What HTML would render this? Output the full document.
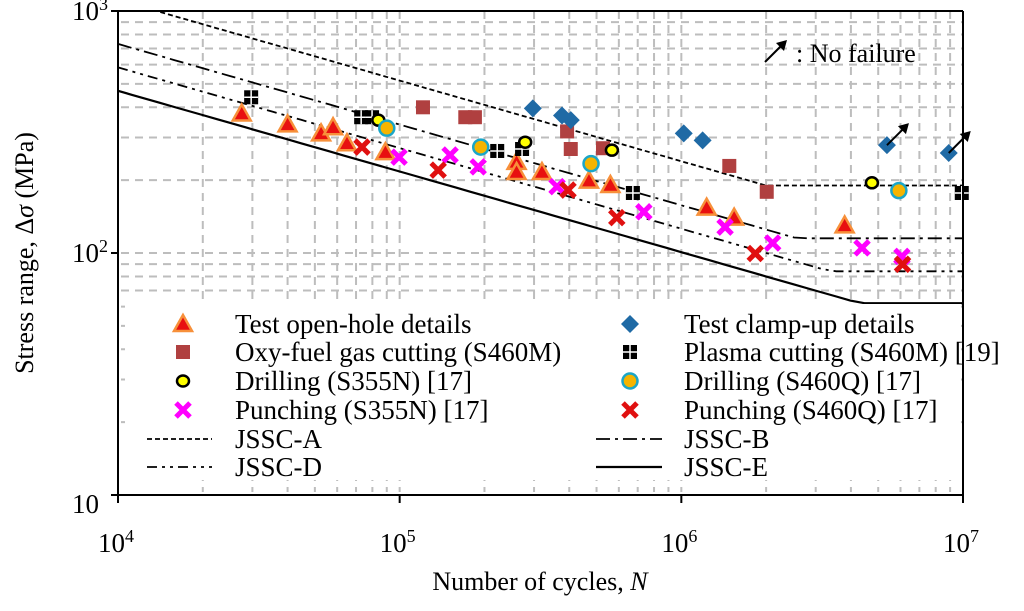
<!DOCTYPE html>
<html><head><meta charset="utf-8"><style>
html,body{margin:0;padding:0;background:#fff;}
svg{display:block;}
svg text{font-family:"Liberation Serif","Times New Roman","DejaVu Serif",serif;}
</style></head><body>
<svg id="chart" width="1024" height="611" viewBox="0 0 1024 611" xmlns="http://www.w3.org/2000/svg">
<g id="grid"></g>
<g id="curves"></g>
<g id="marks"></g>
<g id="axes"></g>
<g id="legend"></g>
</svg>
<script>
const xTicks=[1e4,1e5,1e6,1e7];
const xTickExp=["4","5","6","7"];
const yTicks=[10,100,1000];
const yTickLabels=["10","10","10"];
const yTickExp=["","2","3"];
const curveNames=["JSSC-A","JSSC-B","JSSC-D","JSSC-E"];
const curveRef=[190,125,100,80];
const curveCut=[190,115,84,62];
const openN=[2.75e4,4.0e4,5.26e4,5.8e4,6.5e4,8.9e4,2.6e5,2.6e5,3.2e5,4.7e5,5.6e5,1.23e6,1.54e6,3.8e6];
const openS=[377,340,312,331,284,261,238,216,216,199,191,154,140,130];
const clampN=[2.97e5,3.77e5,4.05e5,1.02e6,1.19e6,5.37e6,8.9e6];
const clampS=[396,370,354,312,292,279,259];
const clampRunout=[false,false,false,false,false,true,true];
const oxyN=[1.21e5,1.71e5,1.85e5,3.93e5,4.05e5,5.27e5,1.48e6,2.01e6];
const oxyS=[400,364,364,318,269,271,229,179];
const plasmaN=[2.97e4,7.3e4,7.98e4,2.22e5,2.72e5,6.73e5,9.9e6];
const plasmaS=[440,364,364,264,269,177,177];
const dr355N=[8.4e4,2.79e5,5.67e5,4.75e6];
const dr355S=[354,287,266,195];
const dr460N=[9.0e4,1.94e5,4.78e5,5.92e6];
const dr460S=[328,274,234,181];
const pu355N=[9.95e4,1.51e5,1.90e5,3.62e5,7.36e5,1.43e6,2.11e6,4.38e6,6.07e6];
const pu355S=[249,254,227,188,148,128,110,105,96.8];
const pu460N=[7.35e4,1.37e5,3.96e5,5.9e5,1.83e6,6.1e6];
const pu460S=[274,220,182,140,99.5,89.8];

const NS="http://www.w3.org/2000/svg";
const X0=118,X1=963,Y0=495,Y1=11;
function X(n){return X0+(Math.log10(n)-4)/3*(X1-X0);}
function Y(s){return Y0-(Math.log10(s)-1)/2*(Y0-Y1);}
function el(tag,attrs,parent){const e=document.createElementNS(NS,tag);for(const k in attrs)e.setAttribute(k,attrs[k]);parent.appendChild(e);return e;}
const grid=document.getElementById('grid'),curves=document.getElementById('curves'),marks=document.getElementById('marks'),axes=document.getElementById('axes'),legend=document.getElementById('legend');

for(let d=4;d<7;d++)for(let m=2;m<=10;m++){const x=X(m*Math.pow(10,d));if(m==10&&d==6)continue;
 const g=el('line',{x1:x,x2:x,y1:Y1,y2:Y0-3,stroke:'#bdbdbd','stroke-width':2,'stroke-dasharray':'8,6'},grid);
 }
for(let d=1;d<3;d++)for(let m=2;m<=9;m++){const y=Y(m*Math.pow(10,d));
 const g=el('line',{x1:X0+3,x2:X1,y1:y,y2:y,stroke:'#bdbdbd','stroke-width':2,'stroke-dasharray':'8,6'},grid);
 }
{const y=Y(100);const g=el('line',{x1:X0+3,x2:X1,y1:y,y2:y,stroke:'#bdbdbd','stroke-width':2,'stroke-dasharray':'8,6'},grid);
 }

const dashes=['5,3','14,5,3,5','10,5,3,5,3,5',''];
curveNames.forEach((nm,i)=>{const pts=[];
 for(let k=0;k<=60;k++){const n=Math.pow(10,4+3*k/60);let s=curveRef[i]*Math.pow(2e6/n,1/3);if(s<curveCut[i])s=curveCut[i];if(s>1000)continue;pts.push(X(n).toFixed(1)+','+Y(s).toFixed(1));}
 const p=el('polyline',{points:pts.join(' '),fill:'none',stroke:'#000','stroke-width':i==3?2.2:1.8,'stroke-dasharray':dashes[i]},curves);
 });

function tri(x,y,p){return el('polygon',{points:`${x},${y-9} ${x-9},${y+7} ${x+9},${y+7}`,fill:'#e81010',stroke:'#f7903a','stroke-width':2.5},p);}
function dia(x,y,p){return el('polygon',{points:`${x},${y-9} ${x+9},${y} ${x},${y+9} ${x-9},${y}`,fill:'#1f6aa5'},p);}
function sq(x,y,p){return el('rect',{x:x-7,y:y-7,width:14,height:14,fill:'#b04040'},p);}
function plas(x,y,p){const g=el('g',{},p);el('rect',{x:x-7,y:y-7,width:14,height:14,fill:'#000'},g);el('path',{d:`M${x} ${y-7}V${y+7}M${x-7} ${y}H${x+7}`,stroke:'#fff','stroke-width':1.5},g);return g;}
function c1(x,y,p){return el('ellipse',{cx:x,cy:y,rx:6,ry:5.5,fill:'#ffff00',stroke:'#000','stroke-width':2.5},p);}
function c2(x,y,p){return el('circle',{cx:x,cy:y,r:7.5,fill:'#f5b400',stroke:'#1aa6c8','stroke-width':2.5},p);}
function cross(col){return (x,y,p)=>el('path',{d:`M${x-7} ${y-7}L${x+7} ${y+7}M${x+7} ${y-7}L${x-7} ${y+7}`,stroke:col,'stroke-width':5},p);}
const series=[[openN,openS,tri,'open-hole'],[oxyN,oxyS,sq,'oxy-fuel'],[clampN,clampS,dia,'clamp-up'],[plasmaN,plasmaS,plas,'plasma'],[dr355N,dr355S,c1,'drilling-s355n'],[dr460N,dr460S,c2,'drilling-s460q'],[pu355N,pu355S,cross('#ff00ff'),'punching-s355n'],[pu460N,pu460S,cross('#e01010'),'punching-s460q']];
series.forEach(([ns,ss,f,nm])=>{ns.forEach((n,i)=>{const m=f(X(n),Y(ss[i]),marks);
 });});
function arrow(x1,y1,x2,y2,p,name){const g=el('g',{},p);
 el('line',{x1:x1,y1:y1,x2:x2-5,y2:y2+5,stroke:'#000','stroke-width':2},g);
 el('polygon',{points:`${x2},${y2} ${x2-11},${y2+3} ${x2-3},${y2+11}`,fill:'#000'},g);}
clampN.forEach((n,i)=>{if(clampRunout[i]){const x=X(n),y=Y(clampS[i]);arrow(x,y,x+22,y-22,marks,'runout-arrow');}});

[[X0,Y1,X0,Y0+8],[X0-7,Y0,X1,Y0],[X0,Y1,X1,Y1],[X1,Y1,X1,Y0+8]].forEach(a=>{const l=el('line',{x1:a[0],y1:a[1],x2:a[2],y2:a[3],stroke:'#000','stroke-width':2},axes);});
xTicks.forEach((t,i)=>{const x=X(t);const tk=el('line',{x1:x,x2:x,y1:Y0,y2:Y0+8,stroke:'#000','stroke-width':2},axes);
 const tx=el('text',{x:x-2,y:552,'font-size':27,'text-anchor':'middle'},axes);
 tx.textContent='10';const sp=el('tspan',{dy:-10,'font-size':18},tx);sp.textContent=xTickExp[i];});
yTicks.forEach((t,i)=>{const y=Y(t);const tk=el('line',{x1:X0-7,x2:X0,y1:y,y2:y,stroke:'#000','stroke-width':2},axes);
 const tx=el('text',{x:72,y:y+(i==0?18:9),'font-size':27},axes);
 tx.textContent=yTickLabels[i];if(yTickExp[i]){const sp=el('tspan',{dy:-10,'font-size':18},tx);sp.textContent=yTickExp[i];}});
{const t=el('text',{x:540,y:590,'font-size':26,'text-anchor':'middle'},axes);
 t.innerHTML='Number of cycles, <tspan font-style="italic">N</tspan>';
 const t2=el('text',{x:0,y:0,'font-size':26,'text-anchor':'middle',transform:'translate(33,253) rotate(-90)'},axes);
 t2.innerHTML='Stress range, Δ<tspan font-style="italic">σ</tspan> (MPa)';}
{const g=el('g',{},axes);
 arrow(765,62,787,40,g,'note-arrow');const t=el('text',{x:796,y:62,'font-size':26},g);t.textContent=': No failure';}

{const bg=el('rect',{x:125,y:304,width:836,height:176,fill:'#fff'},legend);}
const legRows=[324,352,381,410,439,467];
const legL=[['Test open-hole details',tri],['Oxy-fuel gas cutting (S460M)',sq],['Drilling (S355N) [17]',c1],['Punching (S355N) [17]',cross('#ff00ff')],['JSSC-A',0],['JSSC-D',2]];
const legR=[['Test clamp-up details',dia],['Plasma cutting (S460M) [19]',plas],['Drilling (S460Q) [17]',c2],['Punching (S460Q) [17]',cross('#e01010')],['JSSC-B',1],['JSSC-E',3]];
[[legL,183,147,212,235],[legR,630,596,662,684]].forEach(([rows,mx,l1,l2,tx])=>{rows.forEach((r,i)=>{const y=legRows[i];const g=el('g',{},legend);
 
 if(typeof r[1]==='function')r[1](mx,y,g);else el('line',{x1:l1,x2:l2,y1:y,y2:y,stroke:'#000','stroke-width':r[1]==3?2.2:1.8,'stroke-dasharray':dashes[r[1]]},g);
 const t=el('text',{x:tx,y:y+9,'font-size':27},g);t.textContent=r[0];});});
{const l=el('line',{x1:X1,y1:300,x2:X1,y2:Y0+8,stroke:'#000','stroke-width':2},legend);}
</script>
</body></html>
